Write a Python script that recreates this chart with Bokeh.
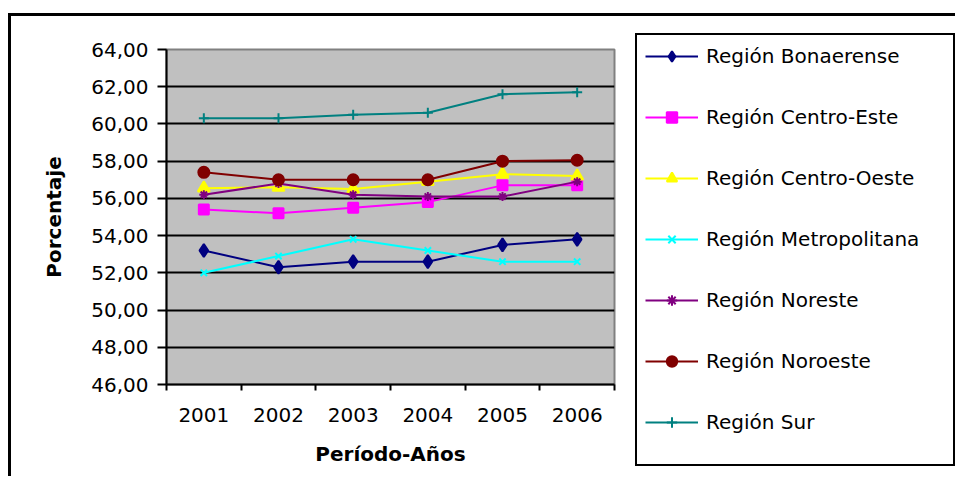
from bokeh.plotting import figure
from bokeh.models import FixedTicker, Legend, LegendItem
from bokeh.embed import file_html
from bokeh.resources import INLINE

years = ["2001", "2002", "2003", "2004", "2005", "2006"]
bonaerense = [53.2, 52.3, 52.6, 52.6, 53.5, 53.8]
centro_este = [55.4, 55.2, 55.5, 55.8, 56.7, 56.7]
centro_oeste = [56.55, 56.6, 56.5, 56.9, 57.3, 57.2]
metropolitana = [52.0, 52.9, 53.8, 53.2, 52.6, 52.6]
noreste = [56.2, 56.8, 56.2, 56.1, 56.1, 56.9]
noroeste = [57.4, 57.0, 57.0, 57.0, 58.0, 58.05]
sur = [60.3, 60.3, 60.5, 60.6, 61.6, 61.7]
y_ticks = [46, 48, 50, 52, 54, 56, 58, 60, 62, 64]

series = [
    ("Región Bonaerense", bonaerense, "#000080", "diamond", 13),
    ("Región Centro-Este", centro_este, "#FF00FF", "square", 10),
    ("Región Centro-Oeste", centro_oeste, "#FFFF00", "triangle", 12),
    ("Región Metropolitana", metropolitana, "#00FFFF", "x", 9),
    ("Región Noreste", noreste, "#800080", "asterisk", 9),
    ("Región Noroeste", noroeste, "#800000", "circle", 11),
    ("Región Sur", sur, "#008080", "cross", 10),
]

FONT = "DejaVu Sans"

# main chart (canvas origin at page (11, 16) because of its CSS margin + border)
p = figure(width=613, height=463, x_range=(0, len(years)), y_range=(46, 64),
           title=None, output_backend="svg", toolbar_location=None,
           min_border_left=155, min_border_right=10,
           min_border_top=33, min_border_bottom=95,
           styles={"margin-left": "8px", "margin-top": "13px",
                   "border-left": "3px solid black",
                   "border-top": "3px solid black"})
p.background_fill_color = "#C0C0C0"
p.border_fill_color = "white"
p.outline_line_color = "#808080"
p.outline_line_width = 2

# legend panel: a separate root, placed to the right; its frame fills it and
# its own copies of the glyphs stay out of view (only the legend shows)
p2 = figure(width=335, height=463, x_range=(0, 1), y_range=(0, 1),
            title=None, x_axis_type=None, y_axis_type=None, min_border=0,
            output_backend="svg", toolbar_location=None,
            styles={"position": "absolute", "left": "620px", "top": "13px",
                    "border-top": "3px solid black"})
p2.outline_line_color = None
p2.background_fill_color = "white"
p2.border_fill_color = "white"

xpos = [i + 0.5 for i in range(len(years))]

items = []
for name, vals, color, marker, size in series:
    p.line(xpos, vals, line_color=color, line_width=2)
    p.scatter(xpos, vals, marker=marker, size=size, fill_color=color,
              line_color=color, line_width=2)
    lr = p2.line(xpos, vals, line_color=color, line_width=2)
    sr = p2.scatter(xpos, vals, marker=marker, size=size, fill_color=color,
                    line_color=color, line_width=2)
    items.append(LegendItem(label=name, renderers=[lr, sr]))

# axes
p.xaxis.ticker = FixedTicker(ticks=xpos, minor_ticks=list(range(len(years) + 1)))
p.xaxis.major_label_overrides = {x: y for x, y in zip(xpos, years)}
p.xaxis.major_tick_out = 6
p.xaxis.major_tick_in = 0
p.xaxis.minor_tick_out = 6
p.xaxis.minor_tick_in = 0
p.xaxis.minor_tick_line_color = "black"
p.xaxis.minor_tick_line_width = 2
p.xaxis.major_label_standoff = 17
p.xaxis.axis_label = "Período-Años"
p.xaxis.axis_label_standoff = 17

p.yaxis.ticker = FixedTicker(ticks=y_ticks)
p.yaxis.major_label_overrides = {v: f"{v:.2f}".replace(".", ",") for v in y_ticks}
p.yaxis.major_tick_out = 9
p.yaxis.major_tick_in = 0
p.yaxis.major_tick_line_width = 2
p.yaxis.minor_tick_line_color = None
p.yaxis.major_label_standoff = 9
p.yaxis.axis_label = "Porcentaje"
p.yaxis.axis_label_standoff = 22

for ax in (p.xaxis[0], p.yaxis[0]):
    ax.axis_line_color = "black"
    ax.axis_line_width = 2
    ax.major_tick_line_color = "black" if ax is p.yaxis[0] else None
    ax.major_label_text_font = FONT
    ax.major_label_text_font_size = "20px"
    ax.major_label_text_color = "black"
    ax.axis_label_text_font = FONT
    ax.axis_label_text_font_size = "20px"
    ax.axis_label_text_font_style = "bold"
    ax.axis_label_text_color = "black"

p.xgrid.visible = False
p.ygrid.ticker = FixedTicker(ticks=y_ticks[1:-1])
p.ygrid.grid_line_color = "black"
p.ygrid.grid_line_width = 2

legend_kw = dict(items=items, orientation="vertical",
                 label_text_font=FONT, label_text_font_size="20px",
                 label_text_color="black",
                 glyph_width=53, glyph_height=26, label_height=26,
                 label_width=239, label_standoff=8, spacing=35,
                 margin=0, border_line_color="black", border_line_width=2,
                 border_line_alpha=1, background_fill_color="white",
                 background_fill_alpha=1)
if "title_location" in Legend.properties():
    legend_kw.update(padding=8, title="\u00a0", title_location="below",
                     title_text_font_size="14px", title_standoff=5)
else:
    legend_kw.update(padding=19)
legend = Legend(location=(15, 13), **legend_kw)
p2.add_layout(legend)

open("out.html", "w").write(file_html([p, p2], INLINE))
